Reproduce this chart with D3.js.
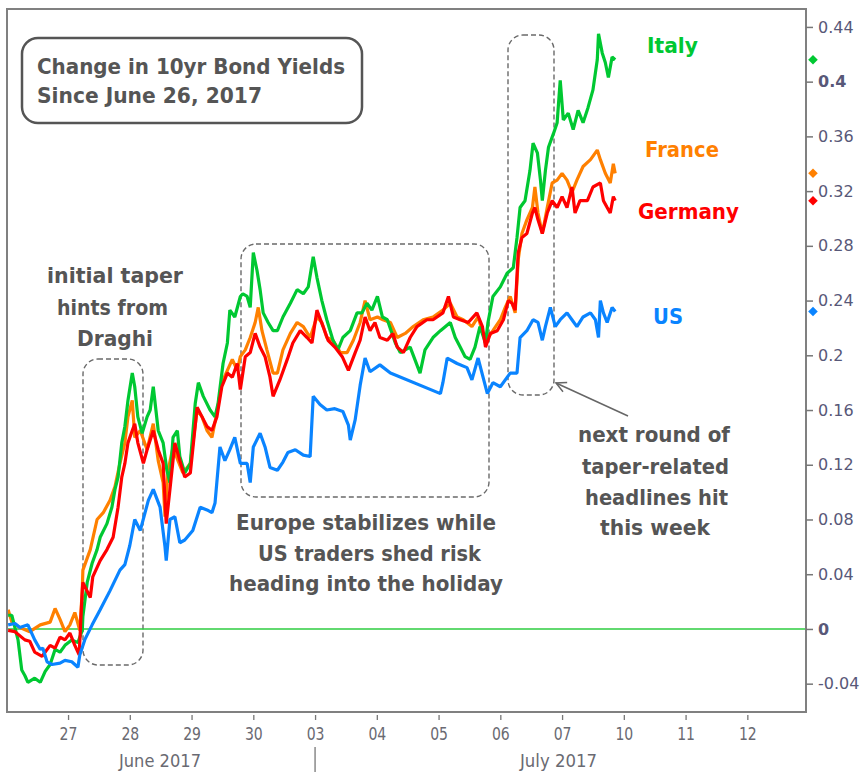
<!DOCTYPE html>
<html>
<head>
<meta charset="utf-8">
<script src="https://cdn.jsdelivr.net/npm/d3@7"></script>
<style>
  body { margin: 0; background: #fff; }
  svg { display: block; font-family: "DejaVu Sans", Verdana, sans-serif; }
</style>
</head>
<body>
<div id="chart"></div>
<script>
// change in 10yr yields since June 26, x = trading days since the 26th open
const italy = [[0.03,0.010],[0.09,0.010],[0.19,-0.008],[0.25,-0.030],[0.30,-0.034],[0.35,-0.039],[0.46,-0.036],[0.55,-0.039],[0.63,-0.031],[0.71,-0.026],[0.79,-0.015],[0.87,-0.017],[0.95,-0.012],[1.06,-0.008],[1.16,-0.010],[1.23,-0.001],[1.24,0.009],[1.31,0.034],[1.39,0.048],[1.47,0.058],[1.52,0.067],[1.63,0.077],[1.71,0.089],[1.76,0.102],[1.81,0.111],[1.87,0.136],[1.92,0.148],[1.97,0.167],[2.04,0.187],[2.08,0.177],[2.13,0.155],[2.20,0.143],[2.28,0.155],[2.33,0.160],[2.38,0.177],[2.46,0.145],[2.54,0.136],[2.60,0.116],[2.65,0.107],[2.70,0.140],[2.77,0.145],[2.81,0.126],[2.89,0.114],[2.98,0.121],[3.06,0.165],[3.11,0.180],[3.19,0.170],[3.30,0.160],[3.38,0.155],[3.43,0.165],[3.51,0.194],[3.58,0.209],[3.62,0.233],[3.70,0.228],[3.79,0.243],[3.83,0.245],[3.90,0.243],[3.95,0.235],[4.00,0.275],[4.06,0.262],[4.11,0.248],[4.16,0.231],[4.24,0.224],[4.32,0.218],[4.39,0.218],[4.48,0.228],[4.60,0.238],[4.71,0.248],[4.81,0.245],[4.89,0.250],[4.97,0.272],[5.03,0.257],[5.11,0.240],[5.19,0.226],[5.29,0.211],[5.37,0.204],[5.45,0.213],[5.57,0.218],[5.68,0.231],[5.76,0.231],[5.84,0.238],[5.92,0.233],[6.01,0.243],[6.09,0.228],[6.17,0.226],[6.30,0.209],[6.38,0.202],[6.54,0.206],[6.70,0.187],[6.78,0.204],[6.91,0.213],[7.03,0.218],[7.19,0.224],[7.27,0.213],[7.35,0.206],[7.43,0.199],[7.51,0.197],[7.59,0.206],[7.67,0.221],[7.76,0.209],[7.80,0.224],[7.88,0.243],[8.00,0.250],[8.11,0.260],[8.21,0.264],[8.27,0.286],[8.32,0.308],[8.40,0.313],[8.48,0.335],[8.53,0.355],[8.60,0.348],[8.65,0.328],[8.68,0.313],[8.73,0.335],[8.78,0.352],[8.86,0.362],[8.92,0.370],[8.97,0.401],[9.02,0.372],[9.10,0.377],[9.18,0.365],[9.26,0.379],[9.34,0.370],[9.42,0.381],[9.50,0.394],[9.57,0.416],[9.59,0.435],[9.65,0.421],[9.70,0.414],[9.75,0.403],[9.81,0.418],[9.86,0.416]];
const france = [[0.03,0.014],[0.09,0.005],[0.22,0.001],[0.38,-0.002],[0.55,0.003],[0.71,0.005],[0.79,0.015],[0.87,0.007],[0.95,-0.002],[1.03,0.003],[1.11,0.012],[1.19,-0.001],[1.23,0.028],[1.24,0.043],[1.36,0.058],[1.47,0.080],[1.57,0.085],[1.68,0.094],[1.76,0.104],[1.84,0.121],[1.92,0.136],[1.97,0.155],[2.04,0.167],[2.08,0.140],[2.17,0.145],[2.28,0.131],[2.38,0.150],[2.46,0.123],[2.54,0.107],[2.57,0.082],[2.62,0.116],[2.70,0.133],[2.78,0.123],[2.86,0.114],[2.98,0.121],[3.09,0.160],[3.17,0.155],[3.25,0.145],[3.33,0.140],[3.41,0.158],[3.49,0.180],[3.58,0.189],[3.66,0.197],[3.74,0.189],[3.79,0.199],[3.87,0.204],[3.95,0.213],[4.03,0.224],[4.08,0.235],[4.14,0.218],[4.22,0.204],[4.32,0.187],[4.39,0.187],[4.48,0.204],[4.60,0.216],[4.71,0.224],[4.81,0.221],[4.92,0.213],[5.03,0.228],[5.11,0.224],[5.19,0.213],[5.29,0.211],[5.41,0.202],[5.52,0.202],[5.62,0.211],[5.73,0.224],[5.81,0.240],[5.89,0.226],[6.01,0.228],[6.10,0.226],[6.22,0.224],[6.33,0.213],[6.46,0.216],[6.59,0.221],[6.75,0.226],[6.91,0.228],[7.07,0.233],[7.19,0.238],[7.30,0.228],[7.40,0.226],[7.54,0.221],[7.64,0.228],[7.72,0.216],[7.80,0.213],[7.88,0.218],[8.00,0.226],[8.08,0.235],[8.16,0.243],[8.24,0.231],[8.29,0.270],[8.35,0.289],[8.43,0.299],[8.52,0.308],[8.56,0.323],[8.61,0.304],[8.68,0.289],[8.76,0.308],[8.84,0.326],[8.92,0.328],[9.00,0.333],[9.08,0.328],[9.16,0.319],[9.24,0.328],[9.34,0.338],[9.46,0.343],[9.57,0.350],[9.62,0.343],[9.70,0.333],[9.78,0.326],[9.83,0.340],[9.86,0.333]];
const germany = [[0.03,-0.001],[0.14,-0.002],[0.30,-0.008],[0.38,-0.009],[0.46,-0.017],[0.58,-0.020],[0.71,-0.012],[0.79,-0.014],[0.87,-0.006],[0.95,-0.008],[1.03,-0.003],[1.11,-0.012],[1.18,-0.019],[1.23,0.028],[1.24,0.034],[1.36,0.023],[1.40,0.038],[1.52,0.050],[1.63,0.058],[1.73,0.067],[1.81,0.089],[1.87,0.111],[1.92,0.121],[1.97,0.136],[2.04,0.145],[2.08,0.150],[2.13,0.136],[2.22,0.121],[2.28,0.131],[2.38,0.145],[2.46,0.131],[2.54,0.121],[2.59,0.077],[2.65,0.102],[2.73,0.136],[2.81,0.123],[2.89,0.111],[2.98,0.114],[3.09,0.162],[3.17,0.155],[3.25,0.148],[3.33,0.145],[3.41,0.155],[3.49,0.177],[3.58,0.187],[3.66,0.184],[3.74,0.194],[3.79,0.175],[3.87,0.199],[3.95,0.202],[4.03,0.216],[4.11,0.206],[4.19,0.199],[4.27,0.184],[4.32,0.170],[4.43,0.182],[4.55,0.197],[4.64,0.209],[4.76,0.218],[4.87,0.213],[4.95,0.209],[5.03,0.233],[5.13,0.221],[5.21,0.211],[5.32,0.206],[5.44,0.199],[5.54,0.189],[5.65,0.202],[5.73,0.211],[5.81,0.228],[5.89,0.218],[5.97,0.224],[6.05,0.213],[6.17,0.211],[6.26,0.216],[6.33,0.206],[6.43,0.202],[6.54,0.213],[6.65,0.221],[6.81,0.226],[6.91,0.226],[7.07,0.231],[7.16,0.243],[7.24,0.228],[7.35,0.226],[7.48,0.224],[7.62,0.231],[7.71,0.221],[7.76,0.206],[7.84,0.216],[7.95,0.218],[8.05,0.226],[8.13,0.240],[8.19,0.238],[8.24,0.233],[8.29,0.275],[8.35,0.286],[8.43,0.289],[8.52,0.304],[8.56,0.308],[8.61,0.299],[8.68,0.289],[8.76,0.304],[8.84,0.313],[8.92,0.308],[9.00,0.316],[9.08,0.308],[9.16,0.323],[9.21,0.304],[9.29,0.313],[9.41,0.313],[9.50,0.323],[9.62,0.326],[9.67,0.313],[9.73,0.308],[9.78,0.304],[9.83,0.316],[9.86,0.313]];
const us = [[0.03,0.003],[0.14,0.004],[0.22,0.001],[0.35,0.003],[0.46,-0.008],[0.55,-0.015],[0.59,-0.014],[0.66,-0.024],[0.74,-0.026],[0.87,-0.025],[0.95,-0.023],[1.06,-0.024],[1.16,-0.028],[1.19,-0.019],[1.27,-0.008],[1.39,0.003],[1.52,0.014],[1.68,0.028],[1.84,0.043],[1.92,0.047],[2.00,0.061],[2.08,0.080],[2.17,0.072],[2.30,0.094],[2.38,0.102],[2.49,0.089],[2.57,0.060],[2.59,0.050],[2.65,0.080],[2.73,0.082],[2.81,0.063],[2.89,0.065],[3.02,0.072],[3.14,0.089],[3.25,0.087],[3.33,0.085],[3.38,0.092],[3.46,0.133],[3.54,0.123],[3.62,0.131],[3.70,0.140],[3.79,0.121],[3.90,0.121],[3.95,0.107],[4.00,0.133],[4.11,0.143],[4.19,0.133],[4.27,0.118],[4.39,0.116],[4.48,0.122],[4.56,0.129],[4.68,0.131],[4.81,0.127],[4.92,0.126],[4.97,0.170],[5.08,0.164],[5.19,0.160],[5.32,0.161],[5.45,0.159],[5.54,0.149],[5.57,0.138],[5.65,0.153],[5.73,0.178],[5.81,0.198],[5.89,0.188],[6.05,0.193],[6.22,0.187],[7.03,0.172],[7.07,0.180],[7.14,0.198],[7.30,0.194],[7.46,0.191],[7.54,0.182],[7.64,0.198],[7.72,0.184],[7.79,0.172],[7.88,0.180],[8.00,0.177],[8.16,0.187],[8.27,0.187],[8.32,0.213],[8.43,0.218],[8.53,0.226],[8.61,0.224],[8.68,0.211],[8.73,0.221],[8.81,0.235],[8.89,0.221],[8.97,0.226],[9.08,0.231],[9.16,0.226],[9.24,0.221],[9.34,0.228],[9.46,0.231],[9.54,0.226],[9.59,0.213],[9.62,0.240],[9.67,0.231],[9.73,0.224],[9.81,0.235],[9.86,0.232]];

const dayLabels = ["27", "28", "29", "30", "03", "04", "05", "06", "07", "10", "11", "12"];
const yTicks = [-0.04, 0, 0.04, 0.08, 0.12, 0.16, 0.2, 0.24, 0.28, 0.32, 0.36, 0.4, 0.44];
const boldTicks = [0, 0.4];

const series = [
    { name: "France", data: france, color: "#ff8000", lx: 645, ly: 157, lw: 74 },
    { name: "Italy", data: italy, color: "#00c832", lx: 647, ly: 53, lw: 51 },
    { name: "Germany", data: germany, color: "#ff0000", lx: 638, ly: 219, lw: 101 },
    { name: "US", data: us, color: "#0a84ff", lx: 653, ly: 324, lw: 30 }
];

const W = 863, H = 772;
const plot = { left: 7, top: 9, right: 806, bottom: 712 };

const svg = d3.select('#chart')
    .append('svg')
    .attr('width', W)
    .attr('height', H);

var x = d3.scaleLinear()
    .domain([0, 12.95])
    .range([6.3, plot.right]);

var y = d3.scaleLinear()
    .domain([-0.0607, 0.4531])
    .range([plot.bottom, plot.top]);

// helper for the squeezed bold annotation text
function note(txt, tx, ty, w, color) {
    svg.append('text')
        .attr('x', tx)
        .attr('y', ty)
        .attr('textLength', w)
        .attr('lengthAdjust', 'spacingAndGlyphs')
        .style('font-size', '22px')
        .style('font-weight', 'bold')
        .style('fill', color || '#555')
        .text(txt);
}

// dashed highlight boxes (behind the lines)
const boxes = [
    { x: 83, y: 359, w: 60, h: 306 },
    { x: 241, y: 244, w: 248, h: 253 },
    { x: 508, y: 35, w: 46, h: 360 }
];
svg.selectAll('rect.hl')
    .data(boxes)
    .enter()
    .append('rect')
    .attr('class', 'hl')
    .attr('x', d => d.x)
    .attr('y', d => d.y)
    .attr('width', d => d.w)
    .attr('height', d => d.h)
    .attr('rx', 15)
    .attr('fill', 'none')
    .attr('stroke', '#6a6a6a')
    .attr('stroke-width', 1.4)
    .attr('stroke-dasharray', '5,3');

// zero line
svg.append('line')
    .attr('x1', plot.left)
    .attr('x2', plot.right)
    .attr('y1', y(0))
    .attr('y2', y(0))
    .attr('stroke', '#2ecc40')
    .attr('stroke-width', 1.6);

var line = d3.line()
    .x(d => x(d[0]))
    .y(d => y(d[1]));

svg.selectAll('path.series')
    .data(series)
    .enter()
    .append('path')
    .attr('class', 'series')
    .attr('d', d => line(d.data))
    .attr('fill', 'none')
    .attr('stroke', d => d.color)
    .attr('stroke-width', 3.2)
    .attr('stroke-linejoin', 'bevel');

// frame
svg.append('rect')
    .attr('x', plot.left)
    .attr('y', plot.top)
    .attr('width', plot.right - plot.left)
    .attr('height', plot.bottom - plot.top)
    .attr('fill', 'none')
    .attr('stroke', '#808080')
    .attr('stroke-width', 2);

// right axis
var yAxis = svg.append('g')
    .attr('transform', 'translate(' + plot.right + ',0)')
    .call(d3.axisRight(y)
        .tickValues(yTicks)
        .tickSize(7)
        .tickPadding(5)
        .tickFormat(d => String(+d.toFixed(2))));
yAxis.select('.domain').remove();
yAxis.selectAll('line').attr('stroke', '#777').attr('stroke-width', 1.5);
yAxis.selectAll('text')
    .style('font-family', '"DejaVu Sans", sans-serif')
    .style('font-size', '16px')
    .style('fill', '#585878')
    .style('font-weight', d => boldTicks.includes(d) ? 'bold' : 'normal');

// end-of-series markers on the axis
svg.selectAll('path.marker')
    .data(series)
    .enter()
    .append('path')
    .attr('class', 'marker')
    .attr('d', d3.symbol().type(d3.symbolSquare).size(46))
    .attr('transform', d => 'translate(813,' + y(d.data[d.data.length - 1][1]) + ') rotate(45)')
    .attr('fill', d => d.color);

// bottom axis: trading days
var xAxis = svg.append('g')
    .attr('transform', 'translate(0,715)')
    .call(d3.axisBottom(x)
        .tickValues(d3.range(1, 13))
        .tickSize(5)
        .tickPadding(7)
        .tickFormat((d, i) => dayLabels[i]));
xAxis.select('.domain').remove();
xAxis.selectAll('line').attr('stroke', '#777').attr('stroke-width', 1.3);
xAxis.selectAll('text')
    .attr('transform', 'scale(0.78,1)')
    .style('font-family', '"DejaVu Sans", sans-serif')
    .style('font-size', '18px')
    .style('fill', '#6a6a72');

// month labels
[["June 2017", 119, 82], ["July 2017", 520, 77]].forEach(m => {
    svg.append('text')
        .attr('x', m[1])
        .attr('y', 767)
        .attr('textLength', m[2])
        .attr('lengthAdjust', 'spacingAndGlyphs')
        .style('font-size', '18px')
        .style('fill', '#6a6a72')
        .text(m[0]);
});
svg.append('line')
    .attr('x1', x(5))
    .attr('x2', x(5))
    .attr('y1', 747)
    .attr('y2', 772)
    .attr('stroke', '#777')
    .attr('stroke-width', 1.3);

// series labels
series.forEach(s => note(s.name, s.lx, s.ly, s.lw, s.color));

// title box
svg.append('rect')
    .attr('x', 22)
    .attr('y', 38)
    .attr('width', 340)
    .attr('height', 85)
    .attr('rx', 16)
    .attr('fill', '#fff')
    .attr('stroke', '#555')
    .attr('stroke-width', 2.5);
note("Change in 10yr Bond Yields", 37, 74, 308);
note("Since June 26, 2017", 37, 103, 225);

// annotations
note("initial taper", 47, 283, 136);
note("hints from", 57, 315, 111);
note("Draghi", 77, 346, 76);

note("Europe stabilizes while", 236, 530, 260);
note("US traders shed risk", 258, 561, 223);
note("heading into the holiday", 229, 591, 274);

note("next round of", 578, 442, 152);
note("taper-related", 582, 474, 147);
note("headlines hit", 585, 505, 143);
note("this week", 600, 535, 110);

// arrow to the July box
svg.append('defs').append('marker')
    .attr('id', 'arr')
    .attr('markerUnits', 'userSpaceOnUse')
    .attr('markerWidth', 14)
    .attr('markerHeight', 14)
    .attr('refX', 11)
    .attr('refY', 6)
    .attr('orient', 'auto')
    .append('path')
    .attr('d', 'M1,1 L11,6 L1,11')
    .attr('fill', 'none')
    .attr('stroke', '#666')
    .attr('stroke-width', 1.5);
svg.append('line')
    .attr('x1', 628)
    .attr('y1', 416)
    .attr('x2', 556)
    .attr('y2', 383)
    .attr('stroke', '#666')
    .attr('stroke-width', 1.5)
    .attr('marker-end', 'url(#arr)');
</script>
</body>
</html>
